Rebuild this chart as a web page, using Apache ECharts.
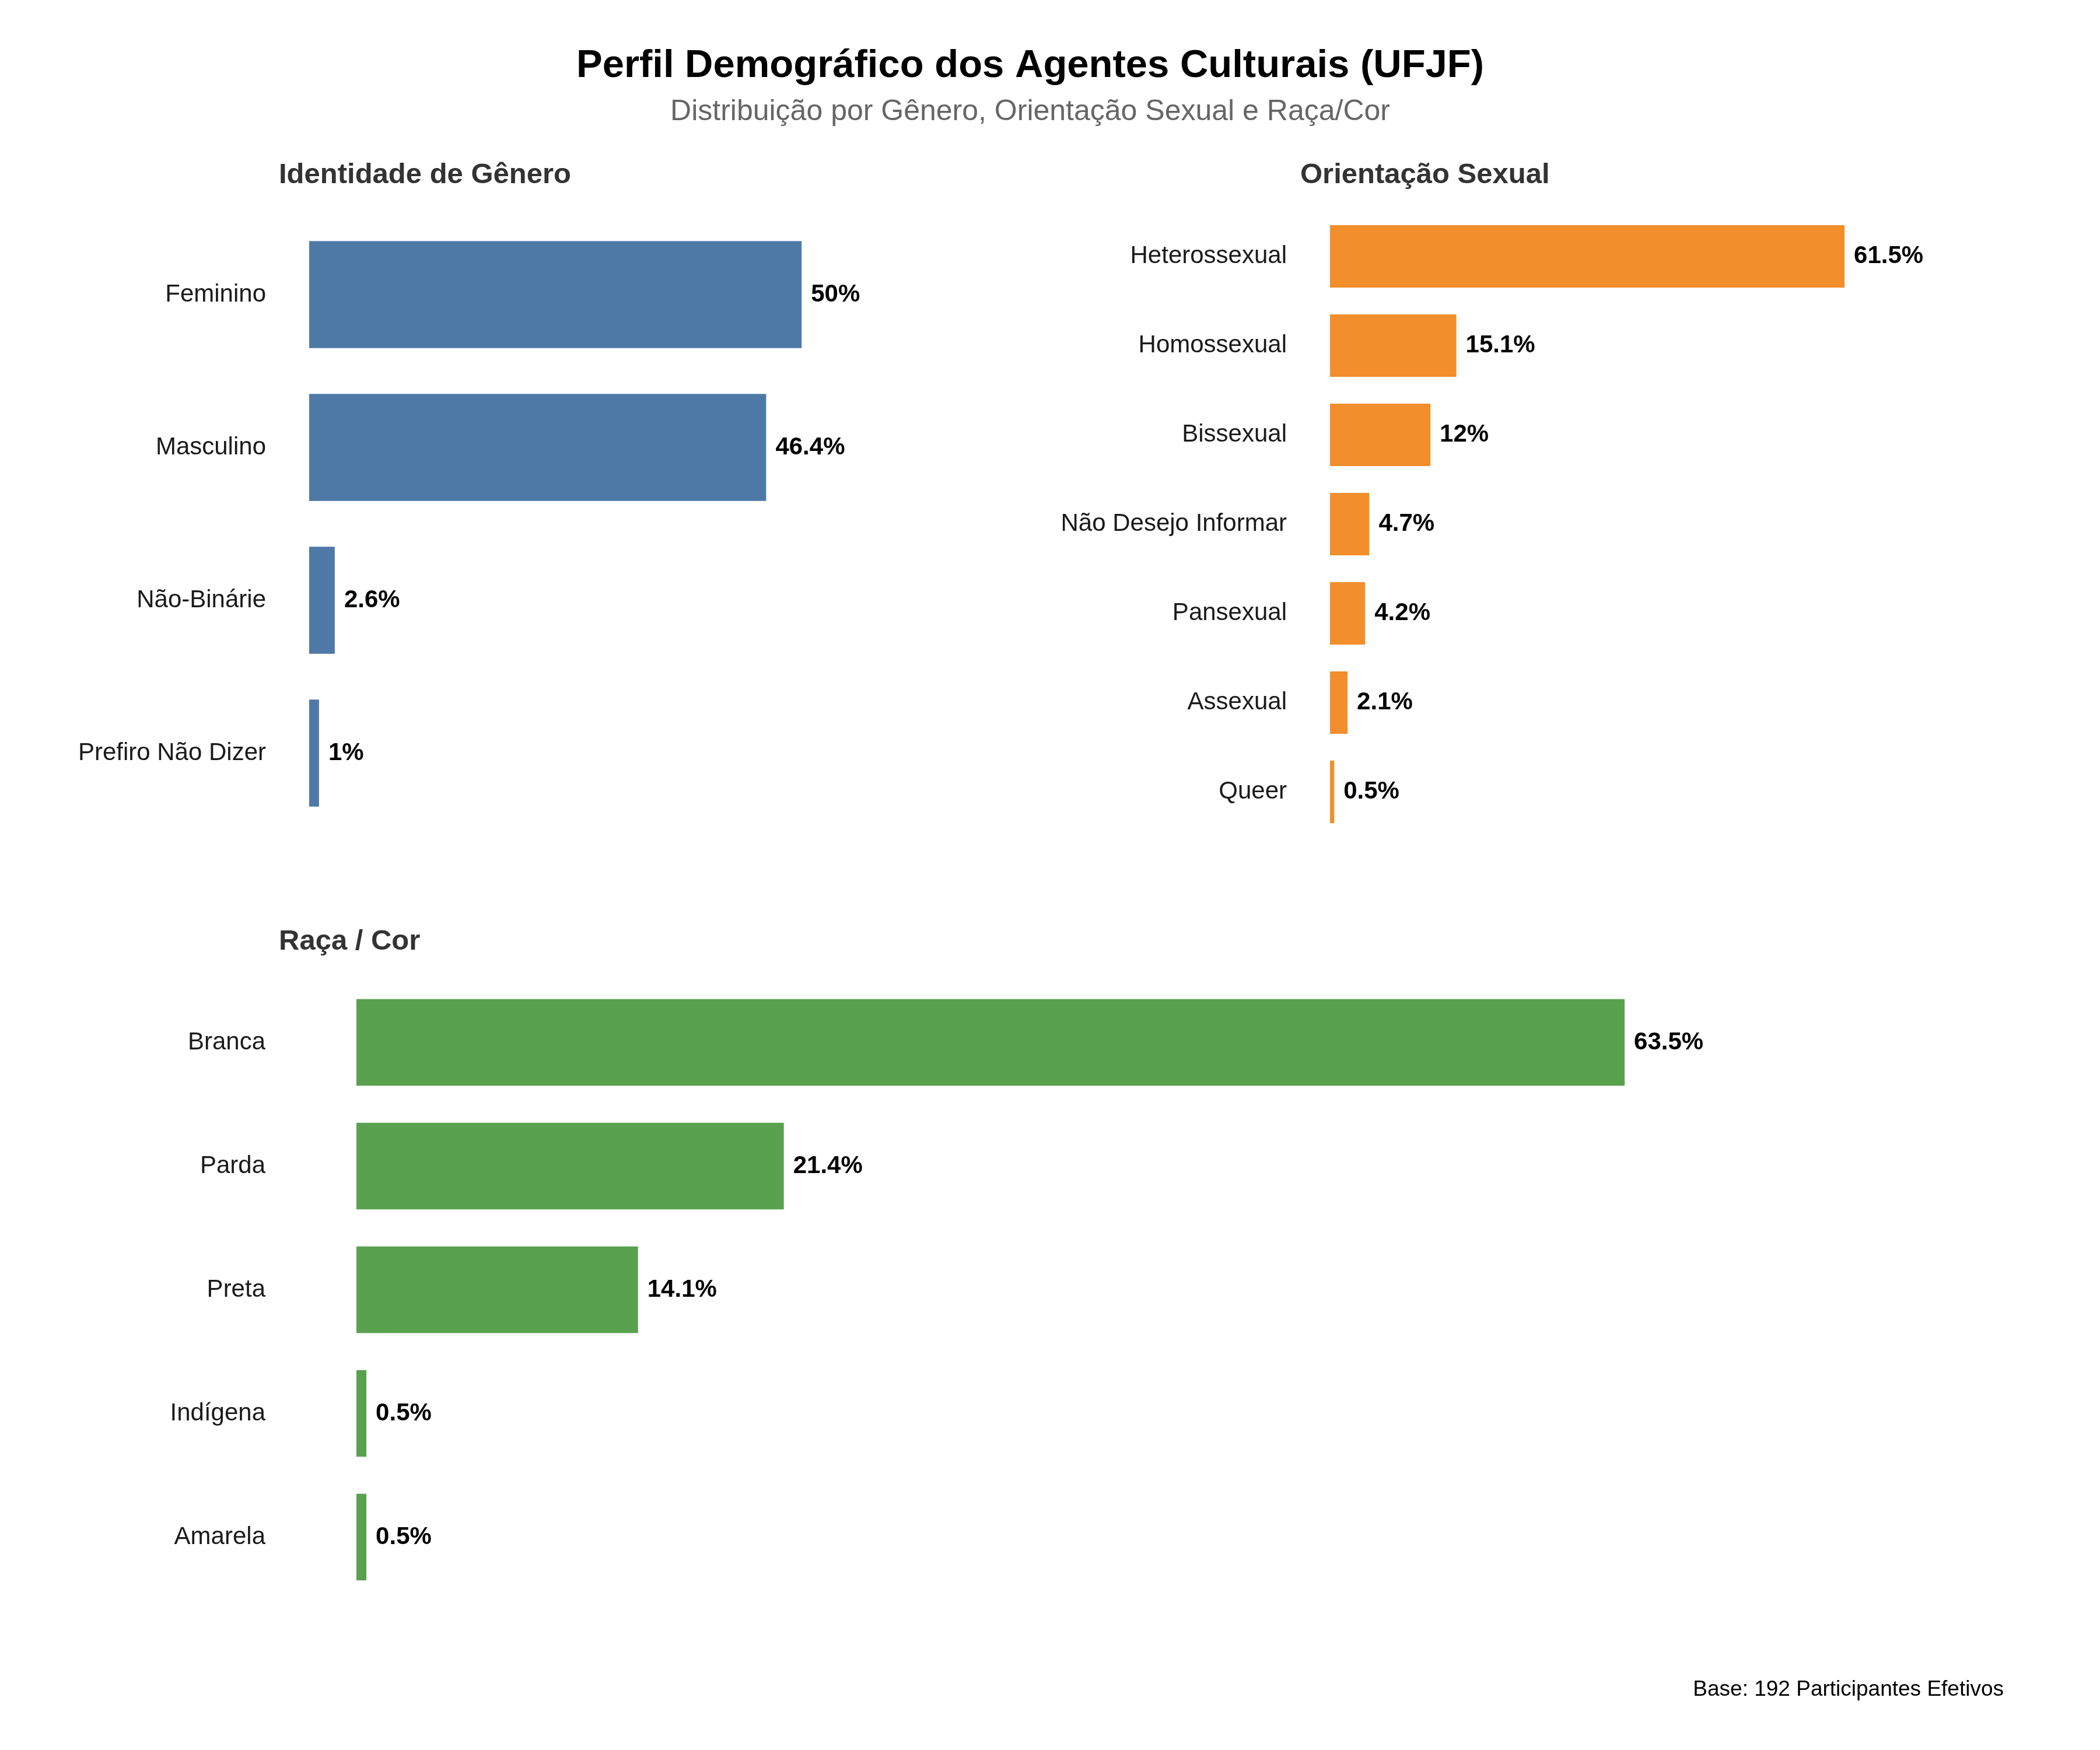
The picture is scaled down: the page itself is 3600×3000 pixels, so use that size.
<!DOCTYPE html>
<html>
<head>
<meta charset="utf-8">
<title>Perfil Demográfico dos Agentes Culturais (UFJF)</title>
<script src="https://cdn.jsdelivr.net/npm/echarts@6/dist/echarts.min.js"></script>
<style>
  html, body { margin: 0; padding: 0; background: #fff; }
  #main { width: 3600px; height: 3000px; }
</style>
</head>
<body>
<div id="main"></div>
<script>
// dados
var generoCats = ['Feminino', 'Masculino', 'Não-Binárie', 'Prefiro Não Dizer'];
var generoVals = [50, 46.4, 2.6, 1];

var orientCats = ['Heterossexual', 'Homossexual', 'Bissexual', 'Não Desejo Informar', 'Pansexual', 'Assexual', 'Queer'];
var orientVals = [61.5, 15.1, 12, 4.7, 4.2, 2.1, 0.5];

var racaCats = ['Branca', 'Parda', 'Preta', 'Indígena', 'Amarela'];
var racaVals = [63.5, 21.4, 14.1, 0.5, 0.5];

var FONT = '"Liberation Sans", Arial, sans-serif';
var cores = ['#4e79a7', '#f28e2b', '#59a14f'];

var chart = echarts.init(document.getElementById('main'));

function eixoY(idx, cats, margem) {
	return {
		type: 'category',
		gridIndex: idx,
		data: cats,
		inverse: true,
		axisLine: { show: false },
		axisTick: { show: false },
		splitLine: { show: false },
		axisLabel: {
			margin: margem,
			fontFamily: FONT,
			fontSize: 42,
			color: '#1a1a1a'
		}
	};
}

function eixoX(idx, max) {
	return {
		type: 'value',
		gridIndex: idx,
		min: 0,
		max: max,
		show: false,
		splitLine: { show: false }
	};
}

function serie(idx, vals, cor) {
	return {
		type: 'bar',
		xAxisIndex: idx,
		yAxisIndex: idx,
		data: vals,
		barCategoryGap: '30%',
		itemStyle: { color: cor },
		label: {
			show: true,
			position: 'right',
			distance: 16,
			fontFamily: FONT,
			fontSize: 42,
			fontWeight: 'bold',
			color: '#000',
			formatter: function (p) { return p.value + '%'; }
		},
		silent: true,
		animation: false
	};
}

function texto(x, y, txt, size, peso, cor, alinhar) {
	return {
		type: 'text',
		x: x,
		y: y,
		style: {
			text: txt,
			font: peso + ' ' + size + 'px ' + FONT,
			fill: cor,
			align: alinhar,
			verticalAlign: 'middle'
		}
	};
}

var option = {
	backgroundColor: '#fff',
	animation: false,
	grid: [
		{ left: 530, top: 374, width: 1013, height: 1048 },
		{ left: 2280, top: 363, width: 1004, height: 1071 },
		{ left: 611, top: 1681, width: 2739, height: 1060 }
	],
	xAxis: [eixoX(0, 60), eixoX(1, 70), eixoX(2, 80)],
	yAxis: [eixoY(0, generoCats, 74), eixoY(1, orientCats, 74), eixoY(2, racaCats, 156)],
	series: [
		serie(0, generoVals, cores[0]),
		serie(1, orientVals, cores[1]),
		serie(2, racaVals, cores[2])
	],
	graphic: [
		texto(1766, 114, 'Perfil Demográfico dos Agentes Culturais (UFJF)', 67, 'bold', '#000', 'center'),
		texto(1766, 192, 'Distribuição por Gênero, Orientação Sexual e Raça/Cor', 50, 'normal', '#666', 'center'),
		texto(478, 300, 'Identidade de Gênero', 49, 'bold', '#333', 'left'),
		texto(2229, 300, 'Orientação Sexual', 49, 'bold', '#333', 'left'),
		texto(478, 1614, 'Raça / Cor', 49, 'bold', '#333', 'left'),
		texto(3435, 2897, 'Base: 192 Participantes Efetivos', 37, 'normal', '#000', 'right')
	]
};

chart.setOption(option);
</script>
</body>
</html>
